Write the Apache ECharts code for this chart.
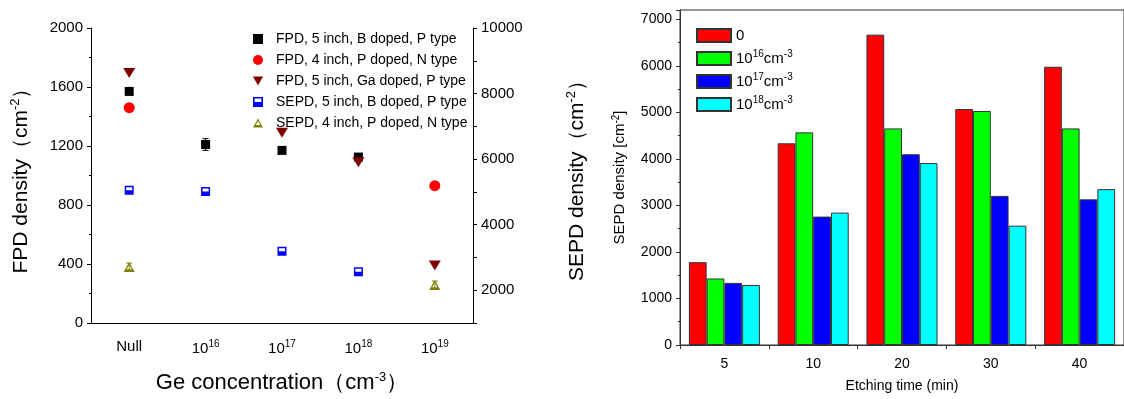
<!DOCTYPE html>
<html><head><meta charset="utf-8">
<script src="https://cdn.jsdelivr.net/npm/echarts@6/dist/echarts.min.js"></script>
<style>html,body{margin:0;padding:0;background:#fff}#c{width:1124px;height:399px}</style>
</head><body><div id="c"></div>
<script>
// ---- Left chart data ----
const geCategories = ['Null', '10^16', '10^17', '10^18', '10^19'];
const fpdB5 = [1570, 1210, 1170, 1125, null];
const fpdB5Err = [12, 40, 16, 8, null];
const fpdP4 = [1460, null, null, null, 931];
const fpdGa5 = [1695, null, 1290, 1090, 390];
const sepdB5 = [5050, 5010, 3190, 2560, null];
const sepdP4 = [2710, null, null, null, 2160];
const sepdP4Err = [120, null, null, null, 120];
const leftNames = ['FPD, 5 inch, B doped, P type', 'FPD, 4 inch, P doped, N type', 'FPD, 5 inch, Ga doped, P type', 'SEPD, 5 inch, B doped, P type', 'SEPD, 4 inch, P doped, N type'];
// ---- Right chart data ----
const etchTimes = ['5', '10', '20', '30', '40'];
const barNames = ['0', '10^16cm^-3', '10^17cm^-3', '10^18cm^-3'];
const bar0 = [1780, 4335, 6670, 5070, 5980];
const bar16 = [1430, 4570, 4655, 5030, 4655];
const bar17 = [1335, 2760, 4100, 3205, 3130];
const bar18 = [1290, 2845, 3910, 2565, 3350];

const FONT = 'Liberation Sans, Arial, sans-serif';
function sup(s) { return String(s).replace(/\^(-?\d+)/g, '{s|$1}'); }
function richFor(size, supSize, pad) {
  return { s: { fontSize: supSize, fontFamily: FONT, color: '#000', padding: [0, 0, pad, 0] } };
}
const dash = v => v == null ? '-' : v;

function errSeries(vals, errs, yIdx, color) {
  const data = [];
  vals.forEach((v, i) => { if (v != null && errs[i] != null) data.push([i, v, errs[i]]); });
  return {
    type: 'custom', xAxisIndex: 0, yAxisIndex: yIdx, z: 1, silent: true,
    data: data,
    renderItem: function (params, api) {
      const x = api.value(0), y = api.value(1), e = api.value(2);
      const t = api.coord([x, y + e]), b = api.coord([x, y - e]);
      const st = { stroke: color, lineWidth: 1 };
      return { type: 'group', children: [
        { type: 'line', shape: { x1: t[0], y1: t[1], x2: b[0], y2: b[1] }, style: st },
        { type: 'line', shape: { x1: t[0] - 3, y1: t[1], x2: t[0] + 3, y2: t[1] }, style: st },
        { type: 'line', shape: { x1: b[0] - 3, y1: b[1], x2: b[0] + 3, y2: b[1] }, style: st }
      ] };
    }
  };
}

const chart = echarts.init(document.getElementById('c'));
const axisBlack = { lineStyle: { color: '#000', width: 1 } };
const barStyle = c => ({ color: c, borderColor: '#333', borderWidth: 1 });
const plain = v => String(v);

chart.setOption({
  animation: false,
  textStyle: { fontFamily: FONT },
  grid: [
    { left: 91, top: 28, width: 382, height: 300 },
    { left: 680, top: 10, width: 450, height: 335, show: true, borderColor: '#333', borderWidth: 1 }
  ],
  legend: [
    {
      data: leftNames, orient: 'vertical', left: 253, top: 32, padding: 0, itemWidth: 10, itemHeight: 10, itemGap: 7,
      textStyle: { fontSize: 14, color: '#000', fontFamily: FONT, padding: [0, 0, 0, 8] }
    },
    {
      data: barNames, orient: 'vertical', left: 696, top: 28, padding: 0, itemWidth: 34, itemHeight: 13, itemGap: 6.5,
      icon: 'rect',
      formatter: n => sup(n),
      textStyle: { fontSize: 15, color: '#000', fontFamily: FONT, rich: richFor(15, 10, 8) }
    }
  ],
  xAxis: [
    {
      type: 'category', gridIndex: 0, data: geCategories, boundaryGap: true,
      axisLine: axisBlack, axisTick: { show: false },
      axisLabel: { fontSize: 15, color: '#000', margin: 16, formatter: v => sup(v), rich: richFor(15, 10, 9) },
      name: 'Ge concentration（cm{s|-3}）', nameLocation: 'middle', nameGap: 48,
      nameTextStyle: { fontSize: 22, color: '#000', fontFamily: FONT, rich: richFor(22, 13, 11) }
    },
    {
      type: 'category', gridIndex: 1, data: etchTimes, boundaryGap: true,
      axisLine: { lineStyle: { color: '#333' } }, axisTick: { show: true, length: 4, lineStyle: { color: '#333' } },
      axisLabel: { fontSize: 14, color: '#000', margin: 12 },
      name: 'Etching time (min)', nameLocation: 'middle', nameGap: 34,
      nameTextStyle: { fontSize: 14, color: '#000', fontFamily: FONT }
    }
  ],
  yAxis: [
    {
      type: 'value', gridIndex: 0, min: 0, max: 2000, interval: 400,
      axisLine: { show: true, lineStyle: { color: '#000' } },
      axisTick: { show: true, length: 4, lineStyle: { color: '#000' } },
      minorTick: { show: true, splitNumber: 2, length: 2, lineStyle: { color: '#000' } },
      splitLine: { show: false },
      axisLabel: { fontSize: 15, color: '#000', margin: 8, formatter: plain },
      name: 'FPD density（cm{s|-2}）', nameLocation: 'middle', nameGap: 58,
      nameTextStyle: { fontSize: 21, color: '#000', fontFamily: FONT, rich: richFor(21, 13, 11) }
    },
    {
      type: 'value', gridIndex: 0, position: 'right', min: 1000, max: 10000, interval: 1000,
      axisLine: { show: true, lineStyle: { color: '#000' } },
      axisTick: { show: true, length: 4, lineStyle: { color: '#000' } },
      splitLine: { show: false },
      axisLabel: { fontSize: 15, color: '#000', margin: 8, formatter: v => (v % 2000 === 0 ? String(v) : '') },
      name: 'SEPD density（cm{s|-2}）', nameLocation: 'middle', nameGap: 92, nameRotate: 90,
      nameTextStyle: { fontSize: 21, color: '#000', fontFamily: FONT, rich: richFor(21, 13, 11) }
    },
    {
      type: 'value', gridIndex: 1, min: 0, max: 7200, interval: 1000,
      axisLine: { show: true, lineStyle: { color: '#333' } },
      axisTick: { show: true, length: 4, lineStyle: { color: '#333' } },
      minorTick: { show: true, splitNumber: 2, length: 2, lineStyle: { color: '#333' } },
      splitLine: { show: false },
      axisLabel: { fontSize: 14, color: '#000', margin: 8, showMaxLabel: false, formatter: plain },
      name: 'SEPD density [cm{s|-2}]', nameLocation: 'middle', nameGap: 52,
      nameTextStyle: { fontSize: 15, color: '#000', fontFamily: FONT, rich: richFor(15, 10, 7) }
    }
  ],
  series: [
    errSeries(fpdB5, fpdB5Err, 0, '#000'),
    errSeries(sepdP4, sepdP4Err, 1, '#808000'),
    { name: leftNames[0], type: 'scatter', xAxisIndex: 0, yAxisIndex: 0, symbol: 'rect', symbolSize: 9,
      itemStyle: { color: '#000', opacity: 1 }, data: fpdB5.map(dash) },
    { name: leftNames[1], type: 'scatter', xAxisIndex: 0, yAxisIndex: 0, symbol: 'circle', symbolSize: 11,
      itemStyle: { color: '#ff0000', opacity: 1 }, data: fpdP4.map(dash) },
    { name: leftNames[2], type: 'scatter', xAxisIndex: 0, yAxisIndex: 0, symbol: 'path://M0,0L10,0L5,9Z', symbolSize: [12, 10],
      itemStyle: { color: '#800000', opacity: 1 }, data: fpdGa5.map(dash) },
    { name: leftNames[3], type: 'scatter', xAxisIndex: 0, yAxisIndex: 1, symbol: 'path://M0,0H10V10H0Z M1.6,1.6V5H8.4V1.6Z', symbolSize: 9,
      itemStyle: { color: '#0000ff', opacity: 1 }, data: sepdB5.map(dash) },
    { name: leftNames[4], type: 'scatter', xAxisIndex: 0, yAxisIndex: 1, symbol: 'path://M5,0L10,9H0Z M5,2.6L2.6,6.6H7.4Z', symbolSize: [11, 10],
      itemStyle: { color: '#808000', opacity: 1 }, data: sepdP4.map(dash) },
    { name: barNames[0], type: 'bar', xAxisIndex: 1, yAxisIndex: 2, barGap: '0%', barCategoryGap: '20%', itemStyle: barStyle('#ff0000'), data: bar0 },
    { name: barNames[1], type: 'bar', xAxisIndex: 1, yAxisIndex: 2, barGap: '0%', barCategoryGap: '20%', itemStyle: barStyle('#00ff00'), data: bar16 },
    { name: barNames[2], type: 'bar', xAxisIndex: 1, yAxisIndex: 2, barGap: '0%', barCategoryGap: '20%', itemStyle: barStyle('#0000ff'), data: bar17 },
    { name: barNames[3], type: 'bar', xAxisIndex: 1, yAxisIndex: 2, barGap: '0%', barCategoryGap: '20%', itemStyle: barStyle('#00ffff'), data: bar18 }
  ]
});
</script>
</body></html>
